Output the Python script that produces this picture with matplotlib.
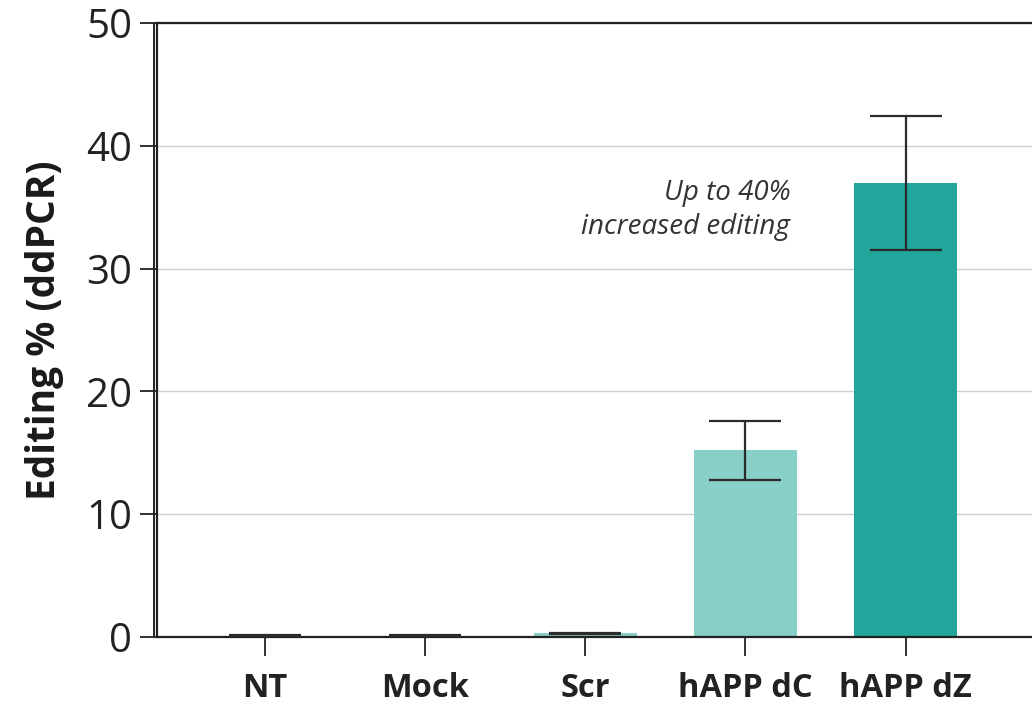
import matplotlib.pyplot as plt
from matplotlib.lines import Line2D

plt.rcParams['font.family'] = ['Open Sans', 'DejaVu Sans']

categories = ['NT', 'Mock', 'Scr', 'hAPP dC', 'hAPP dZ']
editing_mean = [0.1, 0.1, 0.3, 15.25, 37.0]
err_low = [0.05, 0.05, 0.05, 2.45, 5.45]
err_high = [0.05, 0.05, 0.05, 2.35, 5.4]
bar_colors = ['#22a59b', '#22a59b', '#88cfc8', '#88cfc8', '#22a59b']
y_ticks = [0, 10, 20, 30, 40, 50]

fig = plt.figure(figsize=(10.32, 7.06), dpi=100)
ax = fig.add_axes([0.1521, 0.0977, 0.8479, 0.8697])

x = list(range(len(categories)))
ax.bar(x, editing_mean, width=0.645, color=bar_colors, zorder=2)
ax.errorbar(x, editing_mean, yerr=[err_low, err_high], fmt='none',
            ecolor='#2b2b2b', elinewidth=1.6, capsize=26, capthick=1.6, zorder=3)

ax.set_xlim(-0.675, 4.79)
ax.set_ylim(0, 50)
ax.set_yticks(y_ticks)
ax.set_xticks(x)
ax.set_xticklabels(categories, fontsize=23.5, fontweight='bold', color='#1a1a1a')
ax.tick_params(axis='y', labelsize=29, length=12, width=1.3, pad=6,
               colors='#222222', direction='out')
ax.tick_params(axis='x', length=14, width=1.3, pad=11, colors='#222222')

ax.yaxis.grid(True, color='#cfcfcf', linewidth=1.0, zorder=0)
ax.set_axisbelow(True)

for side in ['left', 'top', 'bottom']:
    ax.spines[side].set_color('#222222')
    ax.spines[side].set_linewidth(1.6)
ax.spines['right'].set_visible(False)

# double rule along the value axis
ax.add_line(Line2D([-0.695, -0.695], [0, 50], color='#222222', lw=1.4,
                   clip_on=False, zorder=5))

ax.set_ylabel('Editing % (ddPCR)', fontsize=28, fontweight='bold',
              color='#1a1a1a', labelpad=16)

ax.text(3.28, 34.8, 'Up to 40%\nincreased editing', ha='right', va='center',
        fontsize=20, style='italic', color='#333333', linespacing=1.3)

fig.savefig('out.png', dpi=100)
